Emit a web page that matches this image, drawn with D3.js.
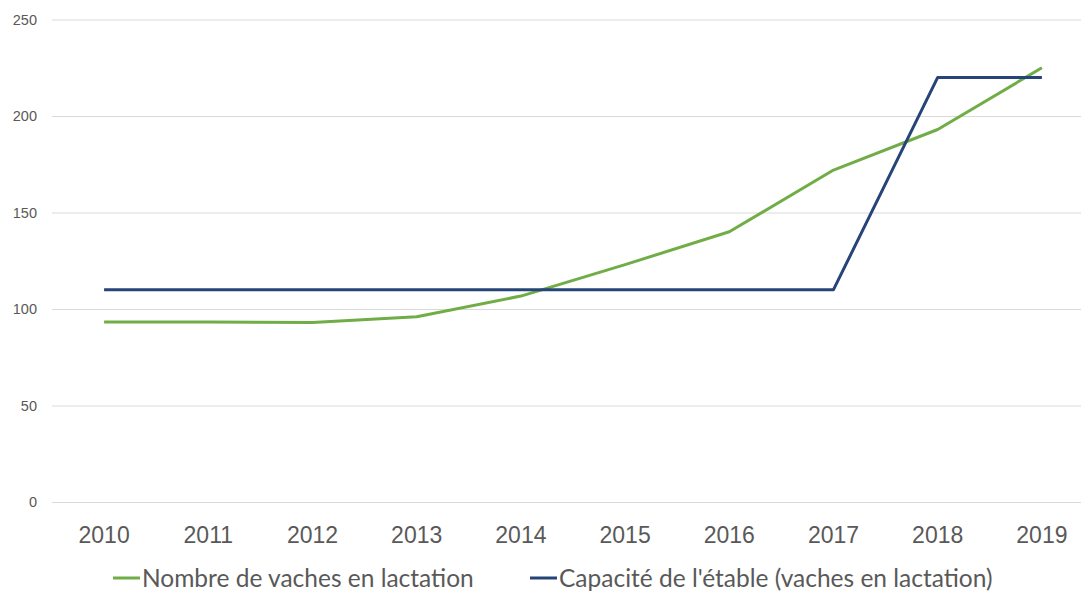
<!DOCTYPE html>
<html>
<head>
<meta charset="utf-8">
<script src="https://cdn.jsdelivr.net/npm/d3@7"></script>
<style>
  body { margin: 0; background: #fff; }
  svg { display: block; font-family: Lato, "Open Sans", sans-serif; }
</style>
</head>
<body>
<div id="chart"></div>
<script>
var years = ["2010", "2011", "2012", "2013", "2014", "2015", "2016", "2017", "2018", "2019"];
var vaches = [93.3, 93.3, 93, 96, 106.7, 123, 140, 172, 193, 225];
var capacite = [110, 110, 110, 110, 110, 110, 110, 110, 220, 220];
var yTicks = [0, 50, 100, 150, 200, 250];
var seriesNames = ["Nombre de vaches en lactation", "Capacité de l'étable (vaches en lactation)"];
var seriesColors = ["#70ad47", "#264478"];

const svgWidth = 1081, svgHeight = 592;

var svg = d3.select("#chart").append("svg")
    .attr("width", svgWidth)
    .attr("height", svgHeight);

var xScale = d3.scaleBand()
    .domain(years)
    .range([52, 1094]);

var yScale = d3.scaleLinear()
    .domain([0, 250])
    .range([502, 19.5]);

// gridlines + y labels
var yAxis = d3.axisLeft(yScale)
    .tickValues(yTicks)
    .tickSize(-(1094 - 52))
    .tickPadding(15);

var gy = svg.append("g")
    .attr("transform", "translate(52,0)")
    .call(yAxis);
gy.select(".domain").remove();
gy.selectAll(".tick line").attr("stroke", "#d9d9d9").attr("stroke-width", 1);
gy.selectAll(".tick text")
    .attr("fill", "#595959")
    .style("font-size", "14.5px");

// x labels
var xAxis = d3.axisBottom(xScale).tickSize(0).tickPadding(0);
var gx = svg.append("g")
    .attr("transform", "translate(0,527)")
    .call(xAxis);
gx.select(".domain").remove();
gx.selectAll(".tick text")
    .attr("fill", "#595959")
    .style("font-size", "23px");

var line = d3.line()
    .x(function(d, i) { return xScale(years[i]) + xScale.bandwidth() / 2; })
    .y(function(d) { return yScale(d); });

[vaches, capacite].forEach(function(serie, k) {
    svg.append("path")
        .datum(serie)
        .attr("fill", "none")
        .attr("stroke", seriesColors[k])
        .attr("stroke-width", 3)
        .attr("stroke-linejoin", "round")
        .attr("d", line);
});

// legend
var legendX = [113, 530];
var legend = svg.append("g");
seriesNames.forEach(function(name, k) {
    legend.append("line")
        .attr("x1", legendX[k]).attr("x2", legendX[k] + 27)
        .attr("y1", 578).attr("y2", 578)
        .attr("stroke", seriesColors[k])
        .attr("stroke-width", 3);
    legend.append("text")
        .attr("x", legendX[k] + 29)
        .attr("y", 587)
        .attr("fill", "#595959")
        .style("font-size", "24.5px")
        .text(name);
});
</script>
</body>
</html>
